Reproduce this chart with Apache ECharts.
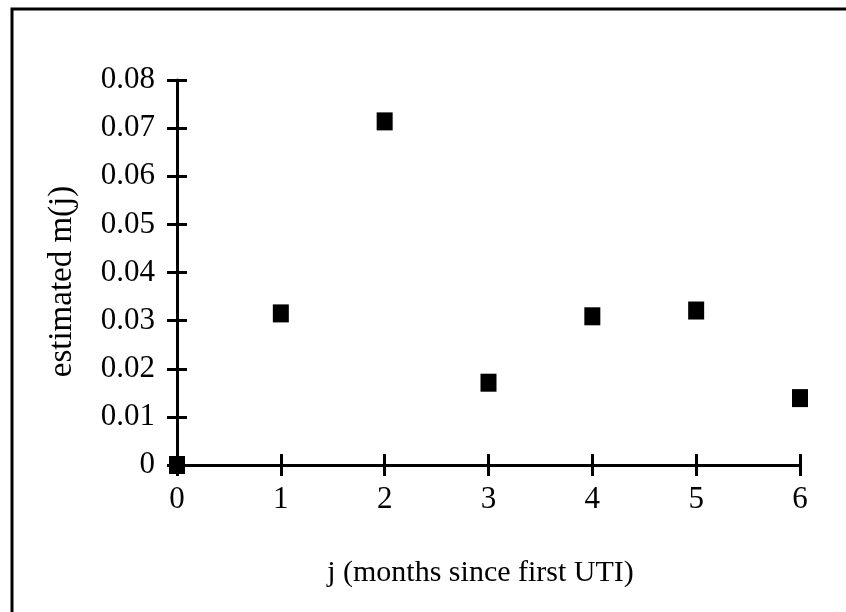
<!DOCTYPE html>
<html>
<head>
<meta charset="utf-8">
<script src="https://cdn.jsdelivr.net/npm/echarts@6/dist/echarts.min.js"></script>
<style>
  html, body { margin: 0; padding: 0; background: #fff; }
  #chart { width: 846px; height: 612px; }
</style>
</head>
<body>
<div id="chart"></div>
<script>
// months since first UTI and estimated m(j)
const months = [0, 1, 2, 3, 4, 5, 6];
const estimates = [0, 0.0315, 0.0714, 0.0171, 0.0309, 0.0321, 0.0139];
const yTicks = [0, 0.01, 0.02, 0.03, 0.04, 0.05, 0.06, 0.07, 0.08];

const font = 'Liberation Serif';
const black = '#000';

const chart = echarts.init(document.getElementById('chart'));

// ticks cross the axis line: one axis draws outer ticks, a twin draws inner ticks
const yBase = {
  type: 'value',
  min: yTicks[0],
  max: yTicks[yTicks.length - 1],
  interval: 0.01,
  position: 'left',
  splitLine: { show: false }
};
const xBase = {
  type: 'value',
  min: months[0],
  max: months[months.length - 1],
  interval: 1,
  position: 'bottom',
  splitLine: { show: false }
};

chart.setOption({
  backgroundColor: '#fff',
  animation: false,
  grid: { left: 177, right: 46, top: 80, bottom: 147 },
  graphic: [{
    type: 'rect',
    shape: { x: 12, y: 9, width: 900, height: 700 },
    style: { fill: 'none', stroke: black, lineWidth: 3 },
    z: 0
  }],
  xAxis: [{
    ...xBase,
    name: 'j (months since first UTI)',
    nameLocation: 'middle',
    nameGap: 93,
    nameTextStyle: { fontFamily: font, fontSize: 30, color: black, padding: [0, 16, 0, 0] },
    axisLine: { show: true, lineStyle: { color: black, width: 3 } },
    axisTick: { show: true, length: 11, lineStyle: { color: black, width: 3 } },
    axisLabel: { fontFamily: font, fontSize: 31, color: black, margin: 19 }
  }, {
    ...xBase,
    axisLine: { show: false },
    axisTick: { show: true, inside: true, length: 11, lineStyle: { color: black, width: 3 } },
    axisLabel: { show: false }
  }],
  yAxis: [{
    ...yBase,
    name: 'estimated m(j)',
    nameLocation: 'middle',
    nameGap: 98,
    nameTextStyle: { fontFamily: font, fontSize: 33, color: black, padding: [0, 18, 0, 0] },
    axisLine: { show: true, lineStyle: { color: black, width: 3 } },
    axisTick: { show: true, length: 10, lineStyle: { color: black, width: 3 } },
    axisLabel: { fontFamily: font, fontSize: 31, color: black, margin: 22 }
  }, {
    ...yBase,
    axisLine: { show: false },
    axisTick: { show: true, inside: true, length: 10, lineStyle: { color: black, width: 3 } },
    axisLabel: { show: false }
  }],
  series: [{
    type: 'scatter',
    xAxisIndex: 0,
    yAxisIndex: 0,
    symbol: 'rect',
    symbolSize: [16, 18],
    itemStyle: { color: black, opacity: 1 },
    data: months.map((m, i) => [m, estimates[i]])
  }]
});
</script>
</body>
</html>
